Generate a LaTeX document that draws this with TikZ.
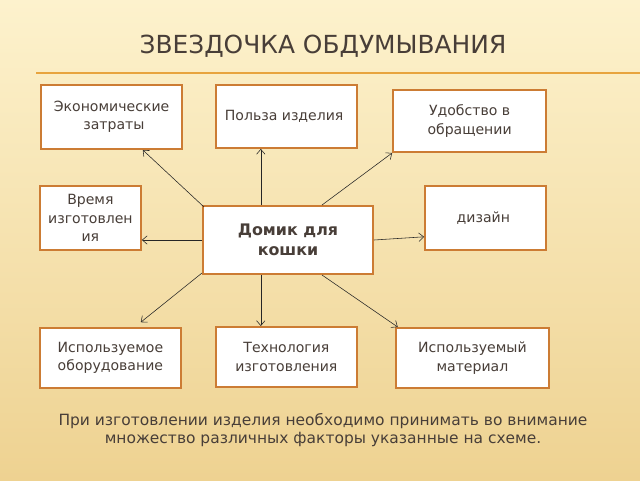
\documentclass[tikz,border=0pt]{standalone}
\usepackage{fontspec}
\setmainfont{DejaVu Sans}
\usetikzlibrary{positioning,arrows.meta}

\definecolor{framebrown}{RGB}{204,124,52}
\definecolor{inktext}{RGB}{72,62,56}
\definecolor{rulegold}{RGB}{232,164,62}
\definecolor{bgtop}{RGB}{253,242,205}
\definecolor{bgbottom}{RGB}{238,210,145}

\begin{document}
\begin{tikzpicture}[font=\fontsize{10}{13}\selectfont, node distance = 0.1 cm,
	block/.style = { rectangle, draw=framebrown, line width=1.4pt, fill=white,
	text=inktext, align=center, inner sep=2pt},
	link/.style = { -{Straight Barb[length=3.5pt,width=6pt]}, thin, black!85 } ]

  % background and margins
  \shade [top color=bgtop, bottom color=bgbottom] (0,0) rectangle (16,-12);
  \useasboundingbox (0,0) rectangle (16,-12);

  \node [name=title, text=inktext, font=\fontsize{17.7}{21}\selectfont]
	at (8.075,-1.15) { ЗВЕЗДОЧКА ОБДУМЫВАНИЯ };
  \draw [rulegold, line width=1.2pt] (0.9,-1.83) -- (16,-1.83);

  \node [name=cat, block, minimum height=1.7cm, minimum width=4.25cm,
	font=\fontsize{11.3}{14.5}\selectfont\bfseries] at (7.2,-6.0)
	{ Домик для\\кошки };

  \node [name=econ, block, minimum height=1.6cm, minimum width=3.525cm]
	at (2.79,-2.925) { Экономические\\\ затраты };
  \node [name=benefit, block, minimum height=1.575cm, minimum width=3.525cm]
	at (7.16,-2.91) { Польза изделия };
  \node [name=comfort, block, minimum height=1.55cm, minimum width=3.825cm]
	at (11.74,-3.025) { Удобство в\\обращении };
  \node [name=time, block, minimum height=1.6cm, minimum width=2.525cm]
	at (2.26,-5.45) { Время\\изготовлен\\ия };
  \node [name=design, block, minimum height=1.6cm, minimum width=3.025cm]
	at (12.14,-5.45) { дизайн };
  \node [name=equip, block, minimum height=1.5cm, minimum width=3.525cm]
	at (2.76,-8.95) { Используемое\\оборудование };
  \node [name=tech, block, minimum height=1.5cm, minimum width=3.525cm]
	at (7.16,-8.925) { Технология\\изготовления };
  \node [name=material, block, minimum height=1.5cm, minimum width=3.825cm]
	at (11.81,-8.95) { Используемый\\материал };

  \node [name=note, text=inktext, align=center,
	font=\fontsize{11}{13.3}\selectfont] at (8.075,-10.75)
	{ При изготовлении изделия необходимо принимать во внимание\\
	  множество различных факторы указанные на схеме. };

  % arrows from the centre
  \draw [link] ([xshift=0.05cm,yshift=-0.05cm]cat.north west)
	-- ([xshift=0.78cm]econ.south);
  \draw [link] ([xshift=-0.68cm]cat.north) -- ([xshift=-0.68cm]cat.north |- benefit.south);
  \draw [link] ([xshift=0.85cm]cat.north) -- (comfort.south west);
  \draw [link] (cat.west) -- (cat.west -| time.east);
  \draw [link] (cat.east) -- ([yshift=-0.47cm]design.west);
  \draw [link] ([yshift=0.05cm]cat.south west) -- ([xshift=0.76cm,yshift=0.12cm]equip.north);
  \draw [link] ([xshift=-0.68cm]cat.south) -- ([xshift=-0.68cm]cat.south |- tech.north);
  \draw [link] ([xshift=0.85cm]cat.south) -- ([xshift=0.07cm]material.north west);
\end{tikzpicture}
\end{document}
